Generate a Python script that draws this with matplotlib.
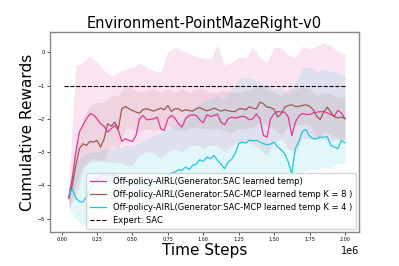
import numpy as np
import matplotlib
matplotlib.use("Agg")
import matplotlib.pyplot as plt

# time steps for the mean curves and for the shaded bands
steps = np.arange(0.05, 2.0001, 0.025) * 1e6
band_steps = np.arange(0.05, 2.0001, 0.05) * 1e6

# mean cumulative rewards
sac_mean = [-4.35, -3.8, -3.0, -2.4, -2.2, -2.0, -1.85, -1.88, -2.0, -2.15,
            -2.22, -2.4, -2.3, -2.2, -2.35, -2.68, -2.6, -2.65, -2.68, -2.5,
            -2.0, -1.9, -2.03, -2.02, -2.0, -1.95, -2.3, -2.35, -2.0, -1.9,
            -1.98, -2.15, -2.25, -2.0, -1.9, -1.88, -1.9, -2.03, -2.12, -1.88,
            -1.93, -1.9, -1.86, -2.1, -2.18, -2.0, -1.95, -1.98, -1.95, -1.92,
            -1.95, -2.03, -2.0, -1.85, -2.0, -2.5, -2.55, -2.0, -1.85, -1.78,
            -1.8, -1.8, -1.95, -2.5, -2.1, -1.92, -1.84, -1.87, -1.87, -1.83,
            -1.8, -1.79, -1.78, -1.82, -1.88, -1.92, -1.75, -1.82, -2.0]
mcp8_mean = [-4.4, -4.0, -3.4, -2.9, -2.75, -2.8, -2.68, -2.7, -2.65, -2.85,
             -2.6, -2.15, -2.22, -2.1, -2.3, -1.7, -1.63, -1.7, -1.75, -1.8,
             -1.83, -1.72, -1.7, -1.73, -1.77, -1.72, -1.68, -1.73, -1.6, -1.78,
             -1.7, -1.7, -1.77, -1.73, -1.75, -1.77, -1.7, -1.66, -1.72, -1.76,
             -1.73, -1.68, -1.72, -1.77, -1.73, -1.76, -1.78, -1.78, -1.7, -1.7,
             -1.73, -1.64, -1.68, -1.7, -1.5, -1.55, -1.65, -1.66, -1.72, -1.95,
             -1.85, -1.65, -1.6, -1.58, -1.63, -1.63, -1.6, -1.58, -1.62, -1.72,
             -1.92, -2.02, -1.8, -1.65, -1.8, -1.94, -1.97, -1.95, -2.0]
mcp4_mean = [-4.3, -4.1, -4.38, -4.48, -4.5, -4.35, -4.12, -3.93, -3.82, -3.76,
             -3.68, -3.72, -3.7, -3.69, -3.73, -3.77, -3.84, -3.92, -3.98, -4.0,
             -3.96, -3.95, -3.98, -3.9, -3.93, -3.88, -3.85, -3.82, -3.72, -3.63,
             -3.6, -3.53, -3.55, -3.45, -3.52, -3.4, -3.37, -3.23, -3.28, -3.15,
             -3.2, -3.1, -3.25, -3.36, -3.5, -3.3, -3.22, -3.05, -2.75, -2.7,
             -2.73, -2.64, -2.66, -2.65, -2.7, -2.75, -2.78, -2.76, -2.7, -2.85,
             -2.93, -3.05, -3.3, -3.65, -2.9, -2.68, -2.38, -2.32, -2.52, -2.6,
             -2.6, -2.55, -2.56, -2.53, -2.8, -2.85, -2.9, -2.65, -2.72]

# shaded spread around each curve
sac_hi = [-4.0, -0.4, -0.3, -0.1, -0.3, -0.55, -0.7, -0.6, -0.5, -0.45,
          -0.33, -0.45, -0.55, -0.6, 0.0, 0.15, 0.05, -0.05, -0.12, -0.18,
          -0.2, 0.22, -0.38, -0.3, -0.15, -0.15, 0.15, -0.15, -0.3, 0.15,
          0.15, -0.1, -0.15, 0.18, 0.1, 0.2, 0.28, 0.2, 0.03, -0.05]
sac_lo = [-4.7, -4.3, -3.6, -3.2, -3.2, -3.3, -3.3, -3.3, -3.4, -3.4,
          -3.1, -3.0, -3.0, -3.2, -3.0, -2.9, -3.0, -2.8, -2.8, -2.9,
          -2.8, -2.8, -3.0, -2.8, -2.7, -2.7, -2.75, -2.9, -3.1, -2.7,
          -2.6, -2.9, -3.0, -2.6, -2.6, -2.6, -2.6, -2.7, -2.6, -2.7]
mcp8_hi = [-4.1, -2.8, -2.0, -1.6, -1.5, -1.5, -1.3, -1.3, -1.0, -1.1,
           -1.2, -1.15, -1.1, -1.2, -1.1, -1.2, -1.1, -1.2, -1.1, -1.1,
           -1.2, -1.2, -1.15, -1.2, -1.2, -1.15, -1.1, -0.95, -1.1, -1.2,
           -1.3, -1.1, -1.1, -1.05, -1.1, -1.3, -1.2, -1.25, -1.35, -1.35]
mcp8_lo = [-4.7, -4.0, -3.4, -3.3, -3.3, -3.2, -2.8, -2.9, -2.3, -2.3,
           -2.4, -2.3, -2.35, -2.3, -2.2, -2.3, -2.35, -2.3, -2.25, -2.3,
           -2.3, -2.3, -2.35, -2.4, -2.3, -2.3, -2.25, -2.1, -2.2, -2.3,
           -2.5, -2.2, -2.2, -2.15, -2.2, -2.6, -2.4, -2.45, -2.6, -2.6]
mcp4_hi = [-3.9, -3.3, -3.1, -3.0, -3.0, -2.9, -2.9, -2.9, -2.8, -2.8,
           -2.7, -2.6, -2.5, -2.4, -2.3, -2.2, -2.0, -1.8, -1.6, -1.5,
           -1.4, -1.3, -1.4, -1.1, -0.8, -0.75, -0.8, -0.9, -1.0, -1.1,
           -1.05, -1.3, -0.9, -0.5, -0.45, -0.6, -0.5, -0.6, -0.6, -0.7]
mcp4_lo = [-4.7, -5.0, -5.2, -5.1, -4.8, -4.6, -4.5, -4.5, -4.6, -4.7,
           -4.7, -4.7, -4.6, -4.5, -4.4, -4.3, -4.3, -4.2, -4.1, -4.0,
           -4.0, -4.0, -4.1, -3.9, -3.7, -3.7, -3.7, -3.75, -3.8, -3.8,
           -3.9, -4.3, -4.4, -3.6, -3.5, -3.55, -3.45, -3.5, -3.35, -3.35]

expert_steps = [0.015e6, 2.0e6]
expert_reward = [-1.0, -1.0]

labels = ["Off-policy-AIRL(Generator:SAC learned temp)",
          "Off-policy-AIRL(Generator:SAC-MCP learned temp K = 8 )",
          "Off-policy-AIRL(Generator:SAC-MCP learned temp K = 4 )",
          "Expert: SAC"]

pink = "#e2349b"
brown = "#9b5a4f"
cyan = "#22c6d8"

fig = plt.figure(figsize=(3.99, 2.66), dpi=100)
ax = fig.add_axes([0.125, 0.128, 0.775, 0.752])

ax.fill_between(band_steps, sac_lo, sac_hi, color=pink, alpha=0.13, linewidth=0)
ax.fill_between(band_steps, mcp8_lo, mcp8_hi, color=brown, alpha=0.12, linewidth=0)
ax.fill_between(band_steps, mcp4_lo, mcp4_hi, color=cyan, alpha=0.13, linewidth=0)

ax.plot(steps, sac_mean, color=pink, lw=0.9, label=labels[0])
ax.plot(steps, mcp8_mean, color=brown, lw=0.9, label=labels[1])
ax.plot(steps, mcp4_mean, color=cyan, lw=0.9, label=labels[2])
ax.plot(expert_steps, expert_reward, "k--", lw=0.8, label=labels[3])

ax.set_xlim(-0.083e6, 2.1e6)
ax.set_ylim(-5.4, 0.61)
ax.set_xticks(np.arange(0, 2.01, 0.25) * 1e6)
ax.set_yticks([-5, -4, -3, -2, -1, 0])
ax.tick_params(labelsize=3.5, length=2, width=0.5, pad=1.5)
ax.xaxis.get_offset_text().set_fontsize(7)

for s in ax.spines.values():
    s.set_color("#888888")
    s.set_linewidth(1)

ax.set_title("Environment-PointMazeRight-v0", fontsize=10.5, pad=3)
ax.set_xlabel("Time Steps", fontsize=11, labelpad=1)
ax.set_ylabel("Cumulative Rewards", fontsize=11, labelpad=2)

ax.legend(loc="lower right", fontsize=6.0, handlelength=2.0, labelspacing=0.5,
          borderaxespad=0.4)

fig.savefig("out.png", dpi=100)
